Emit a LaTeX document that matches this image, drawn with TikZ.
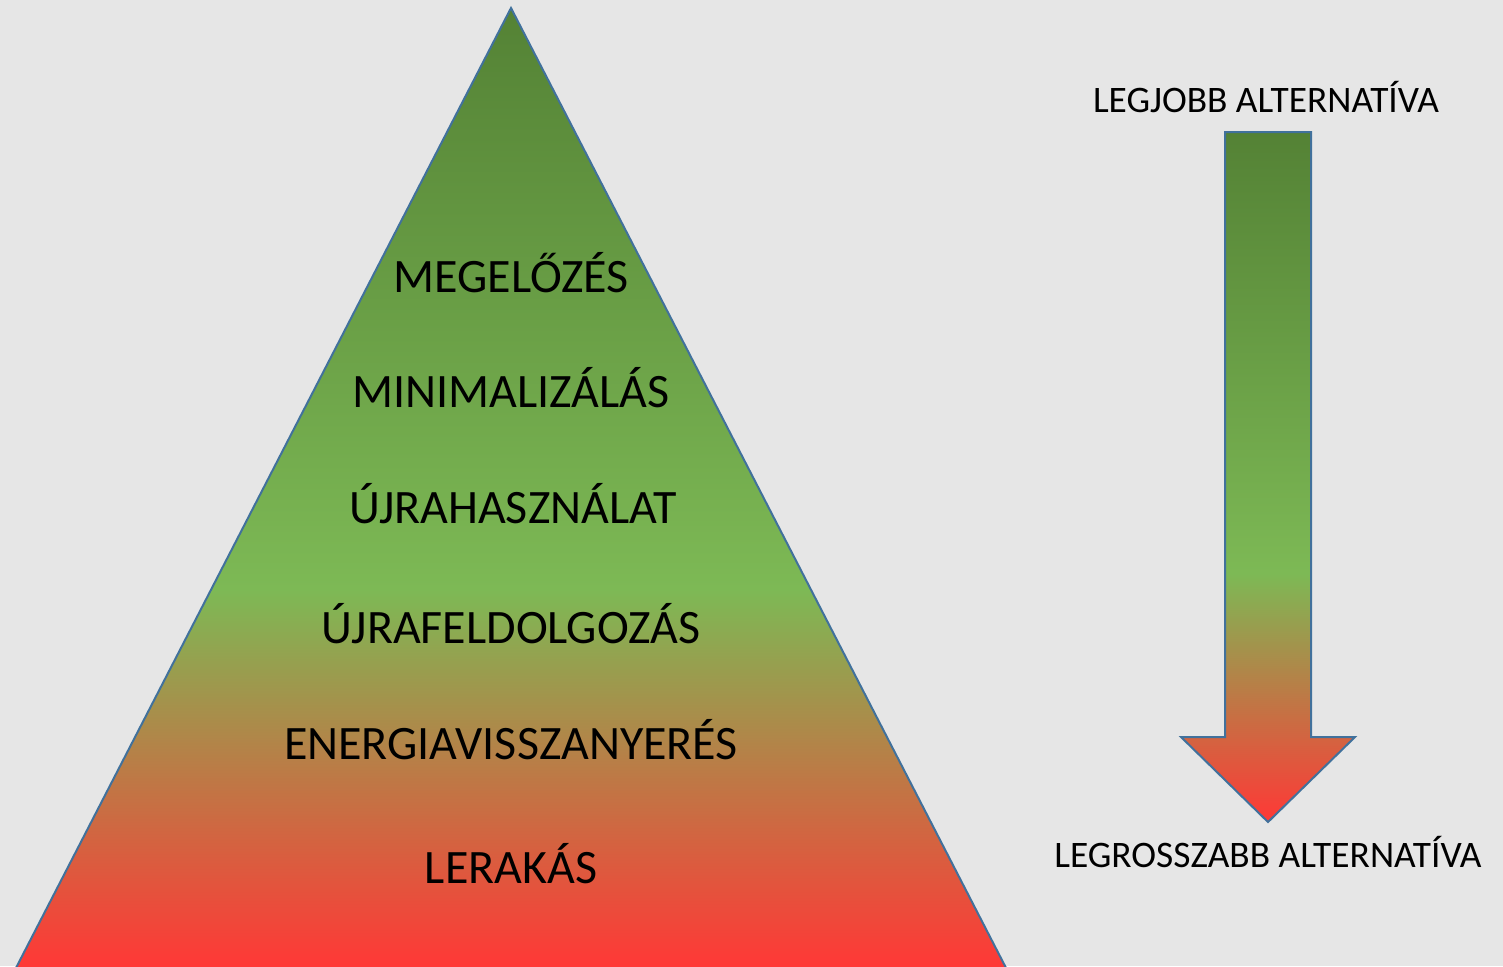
\documentclass[tikz,border=0pt]{standalone}
\usepackage{fontspec}
\setmainfont{Carlito}
\definecolor{bg}{RGB}{230,230,230}
\definecolor{edge}{RGB}{65,113,156}
\definecolor{dkgreen}{RGB}{84,130,53}
\definecolor{ltgreen}{RGB}{125,185,85}
\definecolor{hotred}{RGB}{255,56,54}
\pgfdeclareverticalshading{pyr}{100bp}{%
  color(0bp)=(hotred); color(26.2bp)=(hotred);
  color(45.4bp)=(ltgreen); color(75bp)=(dkgreen); color(100bp)=(dkgreen)}
\pgfdeclareverticalshading{arr}{100bp}{%
  color(0bp)=(hotred); color(25bp)=(hotred);
  color(43bp)=(ltgreen); color(75bp)=(dkgreen); color(100bp)=(dkgreen)}
\tikzset{
  lvl/.style={font=\fontsize{24}{28}\selectfont, anchor=base, inner sep=0pt, text=black},
  side/.style={font=\fontsize{18.7}{22}\selectfont, anchor=base, inner sep=0pt, text=black},
  shapeedge/.style={draw=edge, line width=1pt, line join=miter}
}
\begin{document}
\begin{tikzpicture}[x=0.5pt,y=-0.5pt]
\fill[bg] (0,0) rectangle (1503,966);
\useasboundingbox (0,0) rectangle (1503,966);
\begin{scope}
\clip (0,0) rectangle (1503,966);
\coordinate (apex) at (511,8);
\coordinate (bl) at (4.6,990);
\coordinate (br) at (1017.4,990);
\shade[shading=pyr, shapeedge] (apex) -- (br) -- (bl) -- cycle;
\end{scope}
\coordinate (a1) at (1225,132);
\coordinate (a2) at (1311,132);
\coordinate (a3) at (1311,737);
\coordinate (a4) at (1355,737);
\coordinate (tip) at (1268,822);
\coordinate (a6) at (1181,737);
\coordinate (a7) at (1225,737);
\shade[shading=arr, shapeedge] (a1) -- (a2) -- (a3) -- (a4) -- (tip) -- (a6) -- (a7) -- cycle;
\node[lvl] (l1) at (511,292) {MEGELŐZÉS};
\node[lvl] (l2) at (511,407) {MINIMALIZÁLÁS};
\node[lvl] (l3) at (513,523) {ÚJRAHASZNÁLAT};
\node[lvl] (l4) at (511,643) {ÚJRAFELDOLGOZÁS};
\node[lvl] (l5) at (511,759) {ENERGIAVISSZANYERÉS};
\node[lvl] (l6) at (511,883) {LERAKÁS};
\node[side] (best) at (1266,112) {LEGJOBB ALTERNATÍVA};
\node[side] (worst) at (1268,867) {LEGROSSZABB ALTERNATÍVA};
\end{tikzpicture}
\end{document}
